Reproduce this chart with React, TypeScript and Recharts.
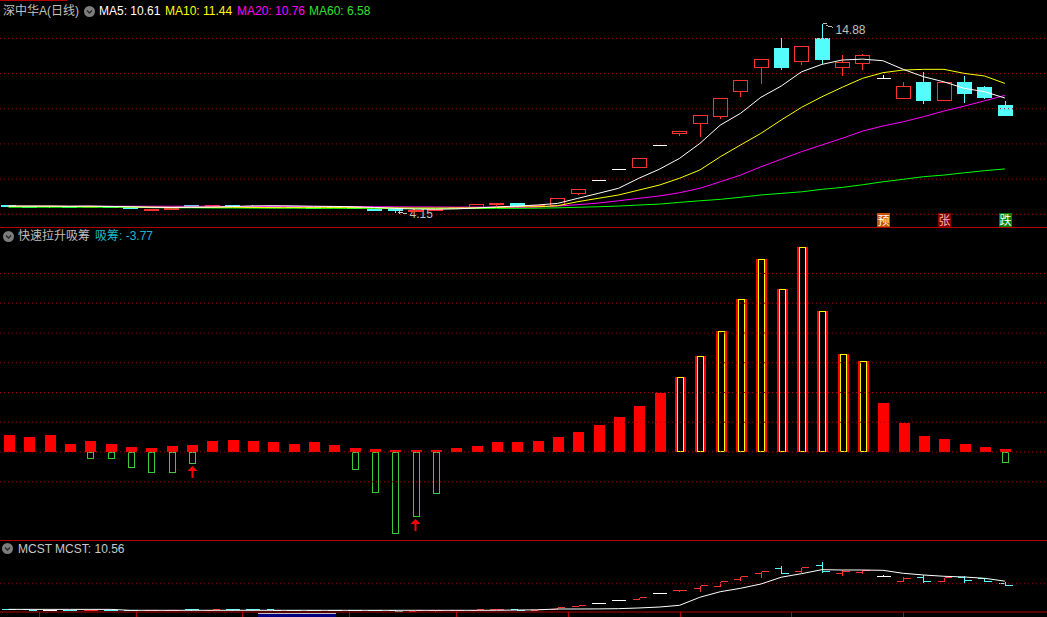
import { ComposedChart, Bar, Line, Scatter, XAxis, YAxis, ReferenceLine } from 'recharts';

// 50 daily bars, oldest first
const openPrices = [
  4.52, 4.49, 4.46, 4.46, 4.44, 4.45, 4.41, 4.29, 4.33, 4.52,
  4.46, 4.52, 4.49, 4.48, 4.46, 4.44, 4.47, 4.43, 4.33, 4.28,
  4.25, 4.27, 4.38, 4.43, 4.56, 4.64, 4.46, 4.53, 5.19, 5.96,
  6.56, 6.67, 7.94, 8.60, 9.17, 9.59, 10.99, 12.35, 13.45, 12.73,
  14.03, 12.35, 12.61, 11.73, 10.63, 11.52, 10.51, 11.52, 11.23, 10.21,
];
const highPrices = [
  4.55, 4.52, 4.55, 4.54, 4.48, 4.53, 4.42, 4.34, 4.41, 4.54,
  4.55, 4.54, 4.56, 4.51, 4.49, 4.47, 4.49, 4.45, 4.35, 4.29,
  4.30, 4.33, 4.47, 4.58, 4.63, 4.66, 4.56, 4.91, 5.42, 5.96,
  6.56, 7.22, 7.94, 8.74, 9.63, 10.59, 11.62, 12.81, 14.09, 13.56,
  14.88, 13.11, 13.18, 12.00, 11.57, 12.14, 11.52, 11.92, 11.35, 10.49,
];
const lowPrices = [
  4.48, 4.45, 4.44, 4.43, 4.41, 4.41, 4.34, 4.27, 4.31, 4.46,
  4.45, 4.47, 4.46, 4.44, 4.42, 4.41, 4.42, 4.34, 4.27, 4.15,
  4.20, 4.24, 4.37, 4.42, 4.55, 4.44, 4.45, 4.53, 5.17, 5.96,
  6.56, 6.67, 7.94, 8.52, 8.45, 9.50, 10.72, 11.48, 12.27, 12.54,
  12.58, 11.91, 12.26, 11.73, 10.63, 10.34, 10.51, 10.38, 10.59, 9.66,
];
const closePrices = [
  4.50, 4.47, 4.46, 4.45, 4.45, 4.43, 4.36, 4.31, 4.38, 4.50,
  4.52, 4.50, 4.48, 4.46, 4.44, 4.43, 4.45, 4.36, 4.29, 4.24,
  4.26, 4.30, 4.44, 4.57, 4.62, 4.45, 4.53, 4.91, 5.42, 5.96,
  6.56, 7.22, 7.94, 8.72, 9.63, 10.59, 11.62, 12.81, 12.39, 13.56,
  12.84, 12.64, 13.03, 11.73, 11.27, 10.51, 11.52, 10.91, 10.68, 9.66,
];

const ma5 = [
  4.47, 4.47, 4.47, 4.46, 4.47, 4.45, 4.43, 4.40, 4.39, 4.40,
  4.41, 4.44, 4.48, 4.49, 4.48, 4.46, 4.45, 4.43, 4.39, 4.34,
  4.30, 4.29, 4.31, 4.36, 4.42, 4.47, 4.53, 4.62, 4.91, 5.19,
  5.48, 6.05, 6.56, 7.18, 8.03, 9.07, 9.74, 10.65, 11.29, 12.10,
  12.52, 12.77, 12.82, 12.73, 12.24, 11.82, 11.53, 11.16, 10.97, 10.61,
];
const ma10 = [
  4.46, 4.46, 4.46, 4.45, 4.45, 4.44, 4.42, 4.41, 4.40, 4.40,
  4.40, 4.40, 4.39, 4.38, 4.38, 4.38, 4.38, 4.38, 4.37, 4.37,
  4.36, 4.36, 4.36, 4.37, 4.39, 4.43, 4.43, 4.49, 4.72, 4.91,
  5.10, 5.38, 5.66, 6.05, 6.52, 7.27, 7.94, 8.60, 9.36, 10.08,
  10.68, 11.22, 11.73, 12.05, 12.20, 12.24, 12.24, 12.01, 11.86, 11.44,
];
const ma20 = [
  4.46, 4.46, 4.46, 4.46, 4.46, 4.46, 4.46, 4.46, 4.46, 4.46,
  4.46, 4.45, 4.45, 4.45, 4.45, 4.44, 4.44, 4.44, 4.43, 4.43,
  4.42, 4.42, 4.41, 4.41, 4.41, 4.40, 4.42, 4.47, 4.55, 4.64,
  4.77, 4.91, 5.04, 5.23, 5.48, 5.85, 6.23, 6.70, 7.13, 7.56,
  7.94, 8.32, 8.73, 9.02, 9.26, 9.55, 9.87, 10.15, 10.45, 10.76,
];
const ma60 = [
  4.40, 4.40, 4.40, 4.40, 4.40, 4.40, 4.40, 4.38, 4.37, 4.37,
  4.36, 4.36, 4.35, 4.35, 4.35, 4.34, 4.34, 4.34, 4.34, 4.33,
  4.33, 4.33, 4.33, 4.33, 4.34, 4.34, 4.35, 4.37, 4.40, 4.43,
  4.47, 4.53, 4.58, 4.68, 4.77, 4.85, 4.97, 5.10, 5.19, 5.28,
  5.42, 5.53, 5.68, 5.85, 5.99, 6.14, 6.23, 6.36, 6.48, 6.58,
];

// 快速拉升吸筹 indicator
const pullValues = [
  5.7, 5.0, 5.7, 2.7, 3.7, 2.7, 1.7, 1.3, 2.0, 2.3,
  3.7, 4.0, 3.7, 3.4, 2.7, 3.4, 2.3, 1.3, 1.0, 0.7,
  0.7, 0.7, 1.3, 2.0, 3.4, 3.4, 3.7, 5.0, 6.7, 9.1,
  11.8, 15.5, 19.8, 25.2, 32.3, 40.7, 51.4, 64.9, 54.8, 68.9,
  47.4, 32.9, 30.6, 16.5, 9.7, 5.4, 4.4, 2.7, 1.7, 1.0,
];
const absorbValues: (number | null)[] = [
  null, null, null, null, -2.5, -2.5, -5.5, -7.2, -7.2, -4.2,
  null, null, null, null, null, null, null, -6.2, -13.9, -27.7,
  -22.0, -14.2, null, null, null, null, null, null, null, null,
  null, null, null, null, null, null, null, null, null, null,
  null, null, null, null, null, null, null, null, null, -3.77,
];
const hotDays = [33, 34, 35, 36, 37, 38, 39, 40, 41, 42];
const arrowDays = [9, 20];
const signalDays = [43, 46, 49];
const signalLabels = ['预', '张', '跌'];

const mcstValues = [
  4.50, 4.50, 4.50, 4.50, 4.50, 4.50, 4.30, 4.30, 4.30, 4.30,
  4.30, 4.30, 4.30, 4.30, 4.30, 4.30, 4.30, 4.30, 4.30, 4.30,
  4.30, 4.30, 4.30, 4.30, 4.30, 4.36, 4.40, 4.58, 4.58, 4.60,
  4.65, 4.80, 5.00, 5.37, 7.10, 8.29, 9.02, 9.94, 11.40, 12.16,
  13.02, 12.95, 12.95, 12.88, 12.24, 11.88, 11.60, 11.45, 11.17, 10.56,
];

const priceTicks = [4, 6, 8, 10, 12, 14];
const pullTicks = [-10, 0, 10, 20, 30, 40, 50, 60];
const mcstTicks = [10];
const weekTicks = [1.5, 6.25, 11.5, 16.75, 22, 27.5, 33, 38.5, 44];
const cursorDate = '2020/10/16';

const UP = '#ff3232';
const DOWN = '#54fcfc';
const FLAT = '#ffffff';
const GRID = '#a00000';
const BORDER = '#b40000';
const FONT = '"Liberation Sans", "Noto Sans CJK SC", sans-serif';
const X_DOMAIN: [number, number] = [-0.418, 51.07];

const rows = closePrices.map((close, i) => {
  const lo = lowPrices[i];
  const hi = highPrices[i];
  return {
    i,
    open: openPrices[i],
    high: hi,
    low: lo,
    close,
    range: [lo, hi > lo ? hi : hi + 0.001],
    ma5: ma5[i],
    ma10: ma10[i],
    ma20: ma20[i],
    ma60: ma60[i],
    pull: pullValues[i],
    absorb: absorbValues[i] ?? 0,
    hot: hotDays.includes(i),
    mcst: mcstValues[i],
  };
});

const maxHigh = Math.max(...highPrices);
const minLow = Math.min(...lowPrices);
const arrowRows = arrowDays.map((d) => ({ i: d, v: absorbValues[d] }));
const signalRows = signalDays.map((d, k) => ({ i: d, y: 3.7, label: signalLabels[k] }));

const colorOf = (o: number, c: number) => (c > o ? UP : c < o ? DOWN : FLAT);
const half = (v: number) => Math.round(v) + 0.5;

function geom(props: any) {
  const { x, y, width, height, payload } = props;
  if (!payload || !isFinite(x) || !isFinite(y) || !isFinite(height)) return null;
  const [lo, hi] = payload.range;
  const top = Math.min(y, y + height);
  const span = Math.abs(height);
  const py = (v: number) => (hi > lo ? top + ((hi - v) / (hi - lo)) * span : top);
  return {
    cx: half(x + width / 2),
    yo: half(py(payload.open)),
    yc: half(py(payload.close)),
    yh: half(py(payload.high)),
    yl: half(py(payload.low)),
    p: payload,
  };
}

function Candle(props: any) {
  const g = geom(props);
  if (!g) return <g />;
  const { cx, yo, yc, yh, yl, p } = g;
  const color = colorOf(p.open, p.close);
  const bt = Math.min(yo, yc);
  const bb = Math.max(yo, yc);
  const w = 7;
  return (
    <g shapeRendering="crispEdges">
      {yh < bt && <line x1={cx} x2={cx} y1={yh} y2={bt} stroke={color} />}
      {yl > bb && <line x1={cx} x2={cx} y1={bb} y2={yl} stroke={color} />}
      {p.close === p.open ? (
        <line x1={cx - w} x2={cx + w} y1={yo} y2={yo} stroke={color} />
      ) : p.close > p.open ? (
        <rect x={cx - w} y={bt} width={w * 2} height={Math.max(bb - bt, 1)} fill={bb - bt < 2 ? color : '#000'} stroke={color} />
      ) : (
        <rect x={cx - w} y={bt} width={w * 2} height={Math.max(bb - bt, 1)} fill={color} stroke={color} />
      )}
      {p.high === maxHigh && (
        <g>
          <path d={`M${cx} ${yh} H${cx + 4} M${cx + 4} ${yh + 2} L${cx + 11} ${yh + 4}`} stroke="#c0c0c0" fill="none" />
          <text x={cx + 13} y={yh + 10} fill="#c0c0c0" fontSize={12} fontFamily={FONT}>{maxHigh.toFixed(2)}</text>
        </g>
      )}
      {p.low === minLow && (
        <g>
          <path d={`M${cx + 3} ${yl} L${cx + 12} ${yl + 1} M${cx + 3} ${yl} L${cx + 6} ${yl - 3} M${cx + 3} ${yl} L${cx + 6} ${yl + 3}`} stroke="#c0c0c0" fill="none" />
          <text x={cx + 14} y={yl + 5} fill="#c0c0c0" fontSize={12} fontFamily={FONT}>{minLow.toFixed(2)}</text>
        </g>
      )}
    </g>
  );
}

function OhlcTick(props: any) {
  const g = geom(props);
  if (!g) return <g />;
  const { cx, yo, yc, yh, yl, p } = g;
  const color = colorOf(p.open, p.close);
  if (p.open === p.close && p.high === p.low) {
    return <line x1={cx - 7} x2={cx + 7} y1={yo} y2={yo} stroke={color} shapeRendering="crispEdges" />;
  }
  return (
    <g shapeRendering="crispEdges">
      <line x1={cx} x2={cx} y1={yh} y2={yl + 0.01} stroke={color} />
      <line x1={cx - 7} x2={cx} y1={yo} y2={yo} stroke={color} />
      <line x1={cx} x2={cx + 7} y1={yc} y2={yc} stroke={color} />
    </g>
  );
}

function PullShape(props: any) {
  const { x, y, width, height, payload } = props;
  if (!payload || !isFinite(x) || !isFinite(y) || !isFinite(height)) return <g />;
  const top = Math.round(Math.min(y, y + height));
  const bot = Math.round(Math.max(y, y + height));
  if (bot - top < 1) return <g />;
  const left = Math.round(x + width / 2) - 5;
  const h = bot - top;
  return (
    <g shapeRendering="crispEdges">
      <rect x={left} y={top} width={11} height={h} fill="#ff0000" />
      {payload.hot && (
        <g>
          <rect x={left + 2} y={top} width={7} height={h} fill="#ffff00" />
          <rect x={left + 3} y={top + 1} width={5} height={Math.max(h - 2, 0)} fill="#000000" />
        </g>
      )}
    </g>
  );
}

function AbsorbShape(props: any) {
  const { x, y, width, height } = props;
  if (!isFinite(x) || !isFinite(y) || !isFinite(height)) return <g />;
  const top = Math.round(Math.min(y, y + height));
  const bot = Math.round(Math.max(y, y + height));
  if (bot - top < 1) return <g />;
  const cx = Math.round(x + width / 2);
  return (
    <rect x={cx - 2.5} y={top + 0.5} width={6} height={bot - top - 1} fill="none" stroke="#3cc83c" shapeRendering="crispEdges" />
  );
}

function ArrowShape(props: any) {
  const { cx, cy } = props;
  if (!isFinite(cx) || !isFinite(cy)) return <g />;
  const x = Math.round(cx);
  const y = Math.round(cy) + 2;
  return (
    <g fill="#ff0000">
      <polygon points={`${x + 0.5},${y} ${x - 4.5},${y + 5} ${x + 5.5},${y + 5}`} />
      <rect x={x - 0.5} y={y + 5} width={2} height={7} />
    </g>
  );
}

const signalColors: Record<string, [string, string]> = {
  预: ['#c85000', '#ffffff'],
  张: ['#800000', '#ffb4b4'],
  跌: ['#008000', '#ffffff'],
};

function SignalShape(props: any) {
  const { cx, cy, payload } = props;
  if (!payload || !isFinite(cx) || !isFinite(cy)) return <g />;
  const [bg, fg] = signalColors[payload.label] ?? ['#444', '#fff'];
  const x = Math.round(cx) - 6;
  const y = Math.round(cy) - 7;
  return (
    <g>
      <rect x={x} y={y} width={13} height={14} fill={bg} />
      <text x={x + 6.5} y={y + 11.5} textAnchor="middle" fill={fg} fontSize={12} fontFamily={FONT}>
        {payload.label}
      </text>
    </g>
  );
}

function WeekTick(props: any) {
  const { x, y } = props;
  const px = half(x);
  return <line x1={px} x2={px} y1={y - 8} y2={y} stroke={BORDER} />;
}

function Knob({ left, top }: { left: number; top: number }) {
  return (
    <svg style={{ position: 'absolute', left, top }} width={11} height={11}>
      <circle cx={5.5} cy={5.5} r={5.5} fill="#7d7d7d" />
      <path d="M3 4.5 L5.5 7 L8 4.5" stroke="#262626" strokeWidth={1.4} fill="none" />
    </svg>
  );
}

const label = (left: number, top: number, color: string) => ({
  position: 'absolute' as const,
  left,
  top,
  color,
  fontSize: 12,
  lineHeight: '14px',
  whiteSpace: 'nowrap' as const,
  fontFamily: FONT,
});

const last = (arr: number[]) => arr[arr.length - 1];

export default function App() {
  return (
    <div style={{ position: 'fixed', left: 0, top: 0, width: 1047, height: 617, background: '#000', overflow: 'hidden' }}>
      {/* price panel */}
      <div style={{ position: 'absolute', left: 0, top: 0 }}>
        <ComposedChart width={1047} height={227} data={rows} margin={{ top: 0, right: 0, bottom: 0, left: 0 }}>
          <XAxis type="number" dataKey="i" domain={X_DOMAIN} allowDataOverflow hide />
          <YAxis type="number" domain={[3.28, 16.18]} allowDataOverflow hide />
          {priceTicks.map((t) => (
            <ReferenceLine key={t} y={t} stroke={GRID} strokeDasharray="1 3" />
          ))}
          <Bar dataKey="range" barSize={14} shape={Candle} isAnimationActive={false} />
          <Line dataKey="ma60" stroke="#00ff00" dot={false} strokeWidth={1} isAnimationActive={false} />
          <Line dataKey="ma20" stroke="#ff00ff" dot={false} strokeWidth={1} isAnimationActive={false} />
          <Line dataKey="ma10" stroke="#ffff00" dot={false} strokeWidth={1} isAnimationActive={false} />
          <Line dataKey="ma5" stroke="#ffffff" dot={false} strokeWidth={1} isAnimationActive={false} />
          <Scatter data={signalRows} dataKey="y" shape={SignalShape} isAnimationActive={false} />
        </ComposedChart>
      </div>
      <div style={{ position: 'absolute', left: 0, top: 0, width: 67, height: 1, background: BORDER }} />
      <div style={label(3, 4, '#c0c0c0')}>深中华A(日线)</div>
      <Knob left={84} top={6} />
      <div style={label(99, 4, '#ffffff')}>MA5: {last(ma5).toFixed(2)}</div>
      <div style={label(165, 4, '#ffff00')}>MA10: {last(ma10).toFixed(2)}</div>
      <div style={label(237, 4, '#ff00ff')}>MA20: {last(ma20).toFixed(2)}</div>
      <div style={label(309, 4, '#33e033')}>MA60: {last(ma60).toFixed(2)}</div>

      <div style={{ position: 'absolute', left: 0, top: 227, width: 1047, height: 1, background: BORDER }} />

      {/* indicator panel */}
      <div style={{ position: 'absolute', left: 0, top: 240 }}>
        <ComposedChart width={1047} height={300} data={rows} stackOffset="sign" margin={{ top: 0, right: 0, bottom: 0, left: 0 }}>
          <XAxis type="number" dataKey="i" domain={X_DOMAIN} allowDataOverflow hide />
          <YAxis type="number" domain={[-29.58, 71.26]} allowDataOverflow hide />
          {pullTicks.map((t) => (
            <ReferenceLine key={t} y={t} stroke={GRID} strokeDasharray="1 3" />
          ))}
          <Bar dataKey="pull" stackId="s" barSize={11} shape={PullShape} isAnimationActive={false} />
          <Bar dataKey="absorb" stackId="s" barSize={11} shape={AbsorbShape} isAnimationActive={false} />
          <Scatter data={arrowRows} dataKey="v" shape={ArrowShape} isAnimationActive={false} />
        </ComposedChart>
      </div>
      <Knob left={3} top={231} />
      <div style={label(18, 229, '#c0c0c0')}>快速拉升吸筹</div>
      <div style={label(95, 229, '#20b8c8')}>吸筹: {last(absorbValues as number[]).toFixed(2)}</div>

      <div style={{ position: 'absolute', left: 0, top: 540, width: 1047, height: 1, background: BORDER }} />

      {/* MCST panel */}
      <div style={{ position: 'absolute', left: 0, top: 540 }}>
        <ComposedChart width={1047} height={92} data={rows} margin={{ top: 0, right: 0, bottom: 0, left: 0 }}>
          <XAxis
            type="number"
            dataKey="i"
            domain={X_DOMAIN}
            allowDataOverflow
            ticks={weekTicks}
            height={20}
            axisLine={{ stroke: BORDER }}
            tickLine={false}
            tick={<WeekTick />}
            interval={0}
          />
          <YAxis type="number" domain={[3.935, 19.39]} allowDataOverflow hide />
          {mcstTicks.map((t) => (
            <ReferenceLine key={t} y={t} stroke={GRID} strokeDasharray="1 3" />
          ))}
          <Bar dataKey="range" barSize={14} shape={OhlcTick} isAnimationActive={false} />
          <Line dataKey="mcst" stroke="#ffffff" dot={false} strokeWidth={1} isAnimationActive={false} />
        </ComposedChart>
      </div>
      <Knob left={2} top={543} />
      <div style={label(18, 542, '#c8c8c8')}>MCST MCST: {last(mcstValues).toFixed(2)}</div>
      <div
        style={{
          position: 'absolute', left: 258, top: 613, width: 78, height: 4, background: '#000080',
          borderTop: '1px solid #c0c0c0', boxSizing: 'border-box',
        }}
        title={cursorDate}
      />
    </div>
  );
}
